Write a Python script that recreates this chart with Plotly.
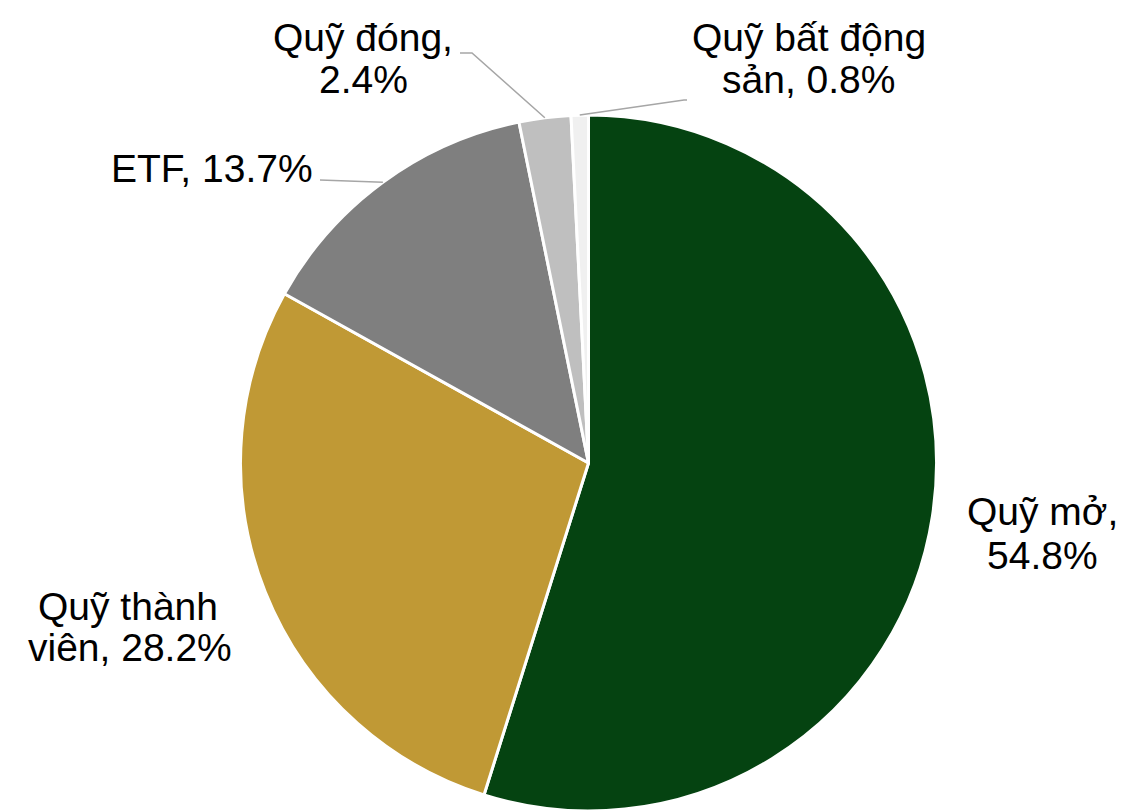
import math
import plotly.graph_objects as go

# Fund-type shares (%)
categories = ["Quỹ mở", "Quỹ thành viên", "ETF", "Quỹ đóng", "Quỹ bất động sản"]
shares = [54.8, 28.2, 13.7, 2.4, 0.8]
colors = ["#054311", "#c09935", "#7f7f7f", "#bfbfbf", "#f0f0f0"]
# number of words kept on a label's first line (0 = single line)
label_breaks = [2, 2, 0, 2, 3]

W, H = 1126, 811
CX = 588.5            # pie centre, px from left
R = 348               # pie radius, px
CY = H - R            # pie centre, px from top

FONT = dict(family="Liberation Sans, Arial, sans-serif", size=39, color="#000000")


def px(x):
    return x / W


def py(y):
    return 1 - y / H


fig = go.Figure(go.Pie(
    labels=categories,
    values=shares,
    marker=dict(colors=colors, line=dict(color="#ffffff", width=3)),
    sort=False,
    direction="clockwise",
    rotation=0,
    textinfo="none",
    hoverinfo="label+percent",
    showlegend=False,
    domain=dict(x=[px(CX - 420), px(CX + 420)], y=[0, py(H - 2 * R)]),
))

# label text positions: per category, list of (x, baseline y) for each line
label_pos = [
    [(1042, 524), (1042, 568)],
    [(128, 619), (130, 660)],
    [(212, 181)],
    [(363, 50), (363, 93)],
    [(809, 50), (808, 93)],
]

annotations = []
for name, val, brk, pos in zip(categories, shares, label_breaks, label_pos):
    words = f"{name}, {val:.1f}%".split(" ")
    if brk:
        lines = [" ".join(words[:brk]), " ".join(words[brk:])]
    else:
        lines = [" ".join(words)]
    for text, (x, base) in zip(lines, pos):
        annotations.append(dict(
            text=text, x=px(x), y=py(base - 13), xref="paper", yref="paper",
            xanchor="center", yanchor="middle", showarrow=False, font=FONT,
        ))

# leader lines: from the slice's outer edge midpoint to the label
total = sum(shares)
cum = 0
mids = []
for v in shares:
    mids.append((cum + v / 2) / total * 2 * math.pi)
    cum += v

leader_paths = {
    2: [(320, 180)],
    3: [(472, 53), (460, 53)],
    4: [(684, 100), (687, 100)],
}
shapes = []
for idx, pts in leader_paths.items():
    a = mids[idx]
    sx = CX + R * math.sin(a)
    sy = CY - R * math.cos(a)
    coords = [(sx, sy)] + pts
    path = "M " + " L ".join(f"{px(x)},{py(y)}" for x, y in coords)
    shapes.append(dict(type="path", path=path, xref="paper", yref="paper",
                       line=dict(color="#a6a6a6", width=1.5)))

fig.update_layout(
    width=W, height=H, autosize=False,
    margin=dict(l=0, r=0, t=0, b=0),
    paper_bgcolor="#ffffff", plot_bgcolor="#ffffff",
    annotations=annotations, shapes=shapes,
)

fig.write_html("out.html")
